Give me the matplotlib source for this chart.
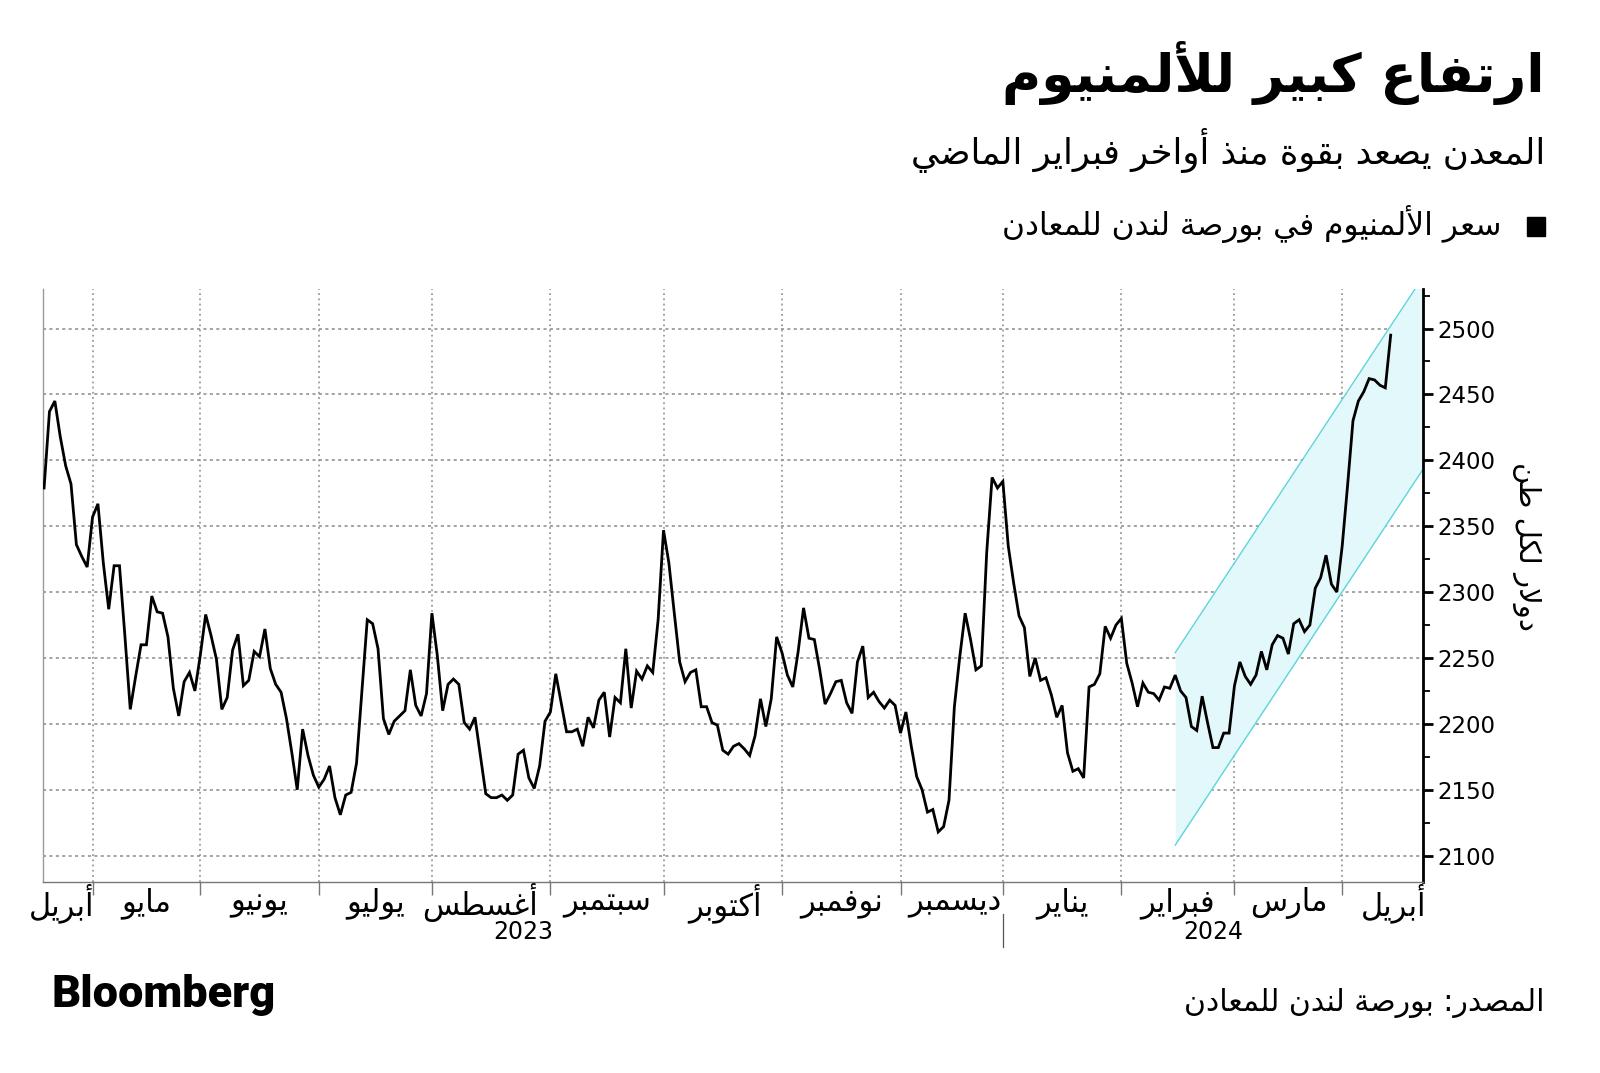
import numpy as np
import matplotlib
matplotlib.use("Agg")
import matplotlib.pyplot as plt
from matplotlib.patches import Rectangle
import matplotlib.transforms as mtransforms

plt.rcParams['font.family'] = ['DejaVu Sans']

# ---------------- Arabic shaping (presentation forms + visual order) -------------
FORMS = {  # isolated, final, initial, medial
    '\u0621': ('\uFE80', None, None, None),
    '\u0622': ('\uFE81', '\uFE82', None, None),
    '\u0623': ('\uFE83', '\uFE84', None, None),
    '\u0624': ('\uFE85', '\uFE86', None, None),
    '\u0625': ('\uFE87', '\uFE88', None, None),
    '\u0626': ('\uFE89', '\uFE8A', '\uFE8B', '\uFE8C'),
    '\u0627': ('\uFE8D', '\uFE8E', None, None),
    '\u0628': ('\uFE8F', '\uFE90', '\uFE91', '\uFE92'),
    '\u0629': ('\uFE93', '\uFE94', None, None),
    '\u062A': ('\uFE95', '\uFE96', '\uFE97', '\uFE98'),
    '\u062B': ('\uFE99', '\uFE9A', '\uFE9B', '\uFE9C'),
    '\u062C': ('\uFE9D', '\uFE9E', '\uFE9F', '\uFEA0'),
    '\u062D': ('\uFEA1', '\uFEA2', '\uFEA3', '\uFEA4'),
    '\u062E': ('\uFEA5', '\uFEA6', '\uFEA7', '\uFEA8'),
    '\u062F': ('\uFEA9', '\uFEAA', None, None),
    '\u0630': ('\uFEAB', '\uFEAC', None, None),
    '\u0631': ('\uFEAD', '\uFEAE', None, None),
    '\u0632': ('\uFEAF', '\uFEB0', None, None),
    '\u0633': ('\uFEB1', '\uFEB2', '\uFEB3', '\uFEB4'),
    '\u0634': ('\uFEB5', '\uFEB6', '\uFEB7', '\uFEB8'),
    '\u0635': ('\uFEB9', '\uFEBA', '\uFEBB', '\uFEBC'),
    '\u0636': ('\uFEBD', '\uFEBE', '\uFEBF', '\uFEC0'),
    '\u0637': ('\uFEC1', '\uFEC2', '\uFEC3', '\uFEC4'),
    '\u0638': ('\uFEC5', '\uFEC6', '\uFEC7', '\uFEC8'),
    '\u0639': ('\uFEC9', '\uFECA', '\uFECB', '\uFECC'),
    '\u063A': ('\uFECD', '\uFECE', '\uFECF', '\uFED0'),
    '\u0641': ('\uFED1', '\uFED2', '\uFED3', '\uFED4'),
    '\u0642': ('\uFED5', '\uFED6', '\uFED7', '\uFED8'),
    '\u0643': ('\uFED9', '\uFEDA', '\uFEDB', '\uFEDC'),
    '\u0644': ('\uFEDD', '\uFEDE', '\uFEDF', '\uFEE0'),
    '\u0645': ('\uFEE1', '\uFEE2', '\uFEE3', '\uFEE4'),
    '\u0646': ('\uFEE5', '\uFEE6', '\uFEE7', '\uFEE8'),
    '\u0647': ('\uFEE9', '\uFEEA', '\uFEEB', '\uFEEC'),
    '\u0648': ('\uFEED', '\uFEEE', None, None),
    '\u0649': ('\uFEEF', '\uFEF0', None, None),
    '\u064A': ('\uFEF1', '\uFEF2', '\uFEF3', '\uFEF4'),
}
LAMALEF = {'\u0622': ('\uFEF5', '\uFEF6'), '\u0623': ('\uFEF7', '\uFEF8'),
           '\u0625': ('\uFEF9', '\uFEFA'), '\u0627': ('\uFEFB', '\uFEFC')}


def ar(text):
    items = []
    i = 0
    while i < len(text):
        c = text[i]
        if c == '\u0644' and i + 1 < len(text) and text[i + 1] in LAMALEF:
            items.append(('LA', text[i + 1]))
            i += 2
        else:
            items.append((c, None))
            i += 1

    def props(it):
        c, a = it
        if c == 'LA':
            return True, False
        if c in FORMS:
            f = FORMS[c]
            return f[1] is not None, f[2] is not None
        return False, False

    out = []
    for k, it in enumerate(items):
        jr, jl = props(it)
        jp = k > 0 and props(items[k - 1])[1] and jr
        jn = k + 1 < len(items) and jl and props(items[k + 1])[0]
        c, a = it
        if c == 'LA':
            out.append(LAMALEF[a][1] if jp else LAMALEF[a][0])
        elif c in FORMS:
            f = FORMS[c]
            if jp and jn:
                out.append(f[3])
            elif jp:
                out.append(f[1])
            elif jn:
                out.append(f[2])
            else:
                out.append(f[0])
        else:
            out.append(c)
    return ''.join(reversed(out))


# ---------------- data ----------------
title = 'ارتفاع كبير للألمنيوم'
subtitle = 'المعدن يصعد بقوة منذ أواخر فبراير الماضي'
legend_label = 'سعر الألمنيوم في بورصة لندن للمعادن'
y_label = 'دولار لكل طن'
source = 'المصدر: بورصة لندن للمعادن'

# LME aluminium price, USD/t, one value per trading day (Apr 2023 - Apr 2024)
prices = [
    2379, 2437, 2445, 2418, 2396, 2382, 2336, 2327, 2319, 2357,
    2367, 2322, 2287, 2320, 2320, 2267, 2211, 2236, 2260, 2260,
    2297, 2285, 2284, 2266, 2227, 2206, 2232, 2239, 2225, 2252,
    2283, 2267, 2249, 2211, 2220, 2256, 2268, 2229, 2233, 2255,
    2251, 2272, 2242, 2230, 2224, 2204, 2178, 2150, 2196, 2176,
    2161, 2152, 2158, 2168, 2144, 2131, 2146, 2148, 2170, 2224,
    2279, 2276, 2257, 2204, 2192, 2202, 2206, 2210, 2241, 2214,
    2206, 2223, 2284, 2252, 2210, 2230, 2234, 2230, 2201, 2196,
    2205, 2176, 2147, 2144, 2144, 2146, 2142, 2146, 2177, 2180,
    2159, 2151, 2168, 2202, 2209, 2238, 2216, 2194, 2194, 2196,
    2183, 2205, 2197, 2218, 2224, 2190, 2220, 2216, 2257, 2212,
    2240, 2234, 2244, 2239, 2279, 2347, 2322, 2284, 2247, 2232,
    2239, 2241, 2213, 2213, 2201, 2199, 2180, 2177, 2183, 2185,
    2181, 2176, 2191, 2219, 2198, 2219, 2266, 2254, 2237, 2228,
    2255, 2288, 2265, 2264, 2241, 2215, 2223, 2232, 2233, 2216,
    2208, 2247, 2259, 2220, 2224, 2217, 2212, 2218, 2214, 2193,
    2209, 2183, 2160, 2150, 2133, 2135, 2118, 2122, 2142, 2213,
    2251, 2284, 2264, 2241, 2244, 2330, 2387, 2379, 2384, 2335,
    2307, 2282, 2273, 2236, 2250, 2233, 2235, 2222, 2205, 2214,
    2178, 2164, 2166, 2159, 2228, 2230, 2238, 2274, 2265, 2275,
    2280, 2246, 2231, 2213, 2231, 2224, 2223, 2218, 2228, 2227,
    2237, 2225, 2220, 2198, 2195, 2221, 2201, 2182, 2182, 2193,
    2193, 2229, 2247, 2236, 2230, 2237, 2255, 2241, 2260, 2267,
    2265, 2253, 2276, 2279, 2270, 2275, 2303, 2311, 2328, 2306,
    2300, 2335, 2381, 2430, 2445, 2452, 2462, 2461, 2457, 2455,
    2495,
]
days = np.arange(len(prices))

# trading-day index where each month starts (May 2023 ... Apr 2024)
month_starts = [9, 29, 51, 72, 94, 115, 137, 159, 178, 200, 221, 241]
month_names = ['أبريل', 'مايو', 'يونيو', 'يوليو', 'أغسطس', 'سبتمبر', 'أكتوبر',
               'نوفمبر', 'ديسمبر', 'يناير', 'فبراير', 'مارس', 'أبريل']
month_label_pos = [3.2, 19, 40, 61.5, 81, 104.5, 126.5, 148, 169, 189, 210.5, 231, 250.5]
years = ['2023', '2024']
year_label_pos = [89, 217]
year_break = 178

y_ticks = list(range(2100, 2501, 50))

# trend channel
ch_x0, ch_x1 = 210, 256
ch_upper0, ch_lower0, ch_slope = 2254, 2108, 6.2

# ---------------- figure ----------------
W, H = 1600, 1073
fig = plt.figure(figsize=(W / 100, H / 100), dpi=100)
fig.patch.set_facecolor('white')

ax = fig.add_axes([43 / W, 1 - 882 / H, (1423 - 43) / W, (882 - 289) / H])
ax.set_xlim(-0.2, 256)
ax.set_ylim(2080, 2530)

# channel
cx = np.array([ch_x0, ch_x1], dtype=float)
cu = ch_upper0 + ch_slope * (cx - ch_x0)
cl = ch_lower0 + ch_slope * (cx - ch_x0)
ax.fill_between(cx, cl, cu, color='#e3f8fb', zorder=1, lw=0)
ax.plot(cx, cu, color='#5cd5dc', lw=1.0, zorder=2)
ax.plot(cx, cl, color='#5cd5dc', lw=1.0, zorder=2)

# price line
ax.plot(days, prices, color='black', lw=2.0, zorder=4, solid_joinstyle='miter')

# grid
ax.set_yticks(y_ticks)
ax.set_yticks(np.arange(2125, 2530, 50), minor=True)
ax.set_xticks(month_starts)
ax.set_xticklabels([])
ax.grid(axis='y', which='major', ls=(0, (2, 2.2)), color='#8a8a8a', lw=1.1)
ax.grid(axis='x', which='major', ls=(0, (1.2, 2.2)), color='#8a8a8a', lw=1.1)
ax.set_axisbelow(True)

ax.yaxis.tick_right()
ax.tick_params(axis='y', which='major', length=7, width=2, direction='out',
               labelsize=16.5, pad=3, colors='black')
ax.tick_params(axis='y', which='minor', length=5, width=1.3, direction='out')
ax.tick_params(axis='x', which='major', length=9, width=1, direction='out', color='#777777')

ax.spines['top'].set_visible(False)
ax.spines['left'].set_color('#9a9a9a')
ax.spines['left'].set_linewidth(1.0)
ax.spines['bottom'].set_color('#777777')
ax.spines['bottom'].set_linewidth(1.0)
ax.spines['right'].set_color('black')
ax.spines['right'].set_linewidth(2.0)

trans = mtransforms.blended_transform_factory(ax.transData, ax.transAxes)
for pos, name in zip(month_label_pos, month_names):
    ax.text(pos, -(903 - 882) / 593, ar(name), transform=trans, ha='center', va='center',
            fontsize=22, color='black')
for pos, yr in zip(year_label_pos, years):
    ax.text(pos, -(932 - 882) / 593, yr, transform=trans, ha='center', va='center',
            fontsize=17, color='black')
ax.plot([year_break, year_break], [-(914 - 882) / 593, -(947 - 882) / 593], transform=trans,
        color='#555555', lw=0.9, clip_on=False)

# texts
fig.text(1545 / W, 1 - 73 / H, ar(title), ha='right', va='center', fontsize=38.5,
         fontweight='bold', color='black')
fig.text(1545 / W, 1 - 151 / H, ar(subtitle), ha='right', va='center', fontsize=25.5,
         color='black')
fig.patches.append(Rectangle((1527 / W, 1 - 236 / H), 18 / W, 19 / H,
                             transform=fig.transFigure, color='black'))
fig.text(1501 / W, 1 - 224 / H, ar(legend_label), ha='right', va='center', fontsize=22.5,
         color='black')
fig.text(1527 / W, 1 - 546 / H, ar(y_label), rotation=270, ha='center', va='center',
         fontsize=21, color='black')
fig.text(1545 / W, 1 - 1003 / H, ar(source), ha='right', va='center', fontsize=21.5,
         color='black')
fig.text(51 / W, 1 - 995 / H, 'Bloomberg', ha='left', va='center', fontsize=32.5,
         fontweight=900, family=['Roboto', 'DejaVu Sans'], color='black')

fig.savefig('out.png', dpi=100, facecolor='white')
